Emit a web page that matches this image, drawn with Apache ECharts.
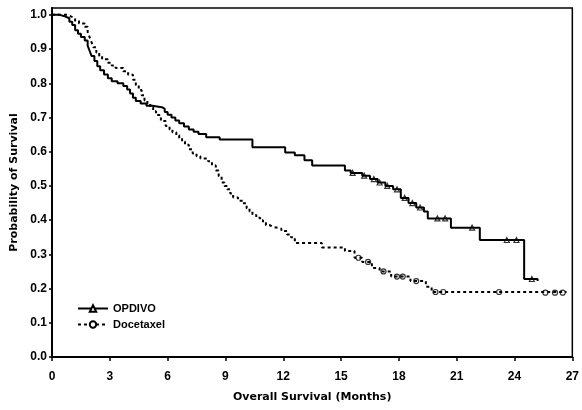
<!DOCTYPE html>
<html>
<head>
<meta charset="utf-8">
<script src="https://cdn.jsdelivr.net/npm/echarts@6/dist/echarts.min.js"></script>
<style>
  html, body { margin: 0; padding: 0; background: #fff; }
  #chart { width: 582px; height: 410px; }
</style>
</head>
<body>
<div id="chart"></div>
<script>
// Kaplan-Meier curves: months and survival after each drop
const opdivoMonths = [0, 0.4, 0.7, 0.9, 1.05, 1.2, 1.35, 1.5, 1.7, 1.85, 1.95, 2.05, 2.2, 2.35, 2.5, 2.7, 2.9, 3.1, 3.4, 3.7, 3.9, 4.05, 4.2, 4.35, 4.6, 4.9, 5.2, 5.7, 5.85, 6.0, 6.2, 6.4, 6.6, 6.85, 7.1, 7.35, 7.6, 8.0, 8.7, 10.4, 12.1, 12.6, 13.1, 13.5, 15.2, 15.5, 16.1, 16.5, 16.9, 17.3, 17.7, 18.1, 18.5, 18.9, 19.3, 19.5, 20.7, 22.2, 24.5, 25.2];
const opdivoSurv = [1.0, 0.995, 0.99, 0.98, 0.97, 0.955, 0.945, 0.935, 0.925, 0.91, 0.895, 0.88, 0.865, 0.85, 0.838, 0.826, 0.815, 0.806, 0.80, 0.792, 0.782, 0.77, 0.758, 0.748, 0.741, 0.734, 0.73, 0.725, 0.716, 0.708, 0.70, 0.691, 0.683, 0.674, 0.665, 0.658, 0.652, 0.642, 0.636, 0.613, 0.598, 0.59, 0.575, 0.56, 0.545, 0.538, 0.53, 0.52, 0.51, 0.50, 0.49, 0.465, 0.45, 0.437, 0.425, 0.405, 0.378, 0.342, 0.228, 0.222];

const docetaxelMonths = [0, 0.8, 1.0, 1.2, 1.4, 1.7, 1.85, 1.95, 2.05, 2.15, 2.3, 2.45, 2.6, 2.9, 3.1, 3.3, 3.7, 3.95, 4.2, 4.35, 4.5, 4.65, 4.8, 4.95, 5.1, 5.25, 5.4, 5.65, 5.9, 6.1, 6.25, 6.45, 6.6, 6.75, 6.9, 7.1, 7.3, 7.5, 7.7, 8.1, 8.3, 8.5, 8.65, 8.8, 8.95, 9.1, 9.25, 9.4, 9.65, 9.9, 10.1, 10.25, 10.4, 10.6, 10.8, 10.95, 11.1, 11.3, 11.5, 11.9, 12.2, 12.4, 12.6, 14.0, 15.2, 15.7, 16.1, 16.6, 17.0, 17.6, 18.6, 19.4, 19.7, 26.7];
const docetaxelSurv = [1.0, 0.995, 0.99, 0.982, 0.975, 0.965, 0.95, 0.935, 0.92, 0.905, 0.89, 0.88, 0.87, 0.86, 0.852, 0.845, 0.835, 0.825, 0.81, 0.795, 0.78, 0.765, 0.75, 0.74, 0.73, 0.718, 0.707, 0.69, 0.675, 0.665, 0.657, 0.648, 0.64, 0.63, 0.62, 0.607, 0.595, 0.587, 0.58, 0.572, 0.56, 0.545, 0.528, 0.51, 0.50, 0.49, 0.478, 0.466, 0.457, 0.449, 0.435, 0.425, 0.415, 0.407, 0.40, 0.392, 0.385, 0.38, 0.375, 0.368, 0.358, 0.35, 0.333, 0.32, 0.31, 0.29, 0.278, 0.26, 0.25, 0.235, 0.222, 0.205, 0.19, 0.188];

// censored observations (the marks riding on the curves)
const opdivoCensorMonths = [15.6, 16.2, 16.7, 17.0, 17.4, 17.9, 18.3, 18.7, 19.1, 20.0, 20.4, 21.8, 23.6, 24.1, 24.9];
const opdivoCensorSurv = [0.538, 0.53, 0.52, 0.51, 0.50, 0.49, 0.465, 0.45, 0.437, 0.405, 0.405, 0.378, 0.342, 0.342, 0.228];
const docetaxelCensorMonths = [15.9, 16.4, 17.2, 17.9, 18.2, 18.9, 19.9, 20.3, 23.2, 25.6, 26.1, 26.5];
const docetaxelCensorSurv = [0.29, 0.278, 0.25, 0.235, 0.235, 0.222, 0.19, 0.19, 0.19, 0.188, 0.188, 0.188];

const seriesNames = ['OPDIVO', 'Docetaxel'];

const font = 'Liberation Sans';
const nameFont = 'DejaVu Sans';

const pairs = (xs, ys) => xs.map((x, i) => [x, ys[i]]);

const chart = echarts.init(document.getElementById('chart'));

chart.setOption({
  animation: false,
  textStyle: { fontFamily: font },
  grid: {
    left: 52,
    right: 5,
    top: 8,
    bottom: 53,
    show: true,
    borderColor: '#000',
    borderWidth: 1.5,
  },
  legend: {
    orient: 'vertical',
    left: 72,
    top: 298,
    itemWidth: 30,
    itemHeight: 8,
    itemGap: 5,
    textStyle: { fontSize: 11, fontWeight: 'bold', color: '#000', fontFamily: font },
    data: seriesNames,
  },
  xAxis: {
    type: 'value',
    min: 0,
    max: 27,
    interval: 3,
    name: 'Overall Survival (Months)',
    nameLocation: 'middle',
    nameGap: 35,
    nameTextStyle: { fontSize: 11, fontWeight: 'bold', color: '#000', fontFamily: nameFont },
    axisLine: { lineStyle: { color: '#000', width: 2 } },
    axisTick: { length: 4, lineStyle: { color: '#000', width: 1.5 } },
    axisLabel: { margin: 14, fontSize: 12, fontWeight: 'bold', color: '#000' },
    splitLine: { show: false },
  },
  yAxis: {
    type: 'value',
    min: 0,
    max: 1.02,
    interval: 0.1,
    name: 'Probability of Survival',
    nameLocation: 'middle',
    nameRotate: 90,
    nameGap: 31,
    nameTextStyle: { fontSize: 11, fontWeight: 'bold', color: '#000', fontFamily: nameFont },
    axisLine: { show: true, lineStyle: { color: '#000', width: 2 } },
    axisTick: { show: true, length: 3, lineStyle: { color: '#000', width: 1.5 } },
    axisLabel: {
      margin: 5,
      fontSize: 12,
      fontWeight: 'bold',
      color: '#000',
      showMaxLabel: false,
      formatter: (v) => v.toFixed(1),
    },
    splitLine: { show: false },
  },
  series: [
    {
      name: seriesNames[0],
      type: 'line',
      step: 'end',
      symbol: 'triangle',
      symbolSize: 8,
      showSymbol: false,
      lineStyle: { color: '#000', width: 2 },
      itemStyle: { color: '#fff', borderColor: '#000', borderWidth: 1.5 },
      data: pairs(opdivoMonths, opdivoSurv),
    },
    {
      name: seriesNames[1],
      type: 'line',
      step: 'end',
      symbol: 'circle',
      symbolSize: 8,
      showSymbol: false,
      lineStyle: { color: '#000', width: 2, type: [3, 3] },
      itemStyle: { color: '#fff', borderColor: '#000', borderWidth: 1.5 },
      data: pairs(docetaxelMonths, docetaxelSurv),
    },
    {
      name: seriesNames[0],
      type: 'scatter',
      symbol: 'triangle',
      symbolSize: 5,
      itemStyle: { color: '#fff', borderColor: '#000', borderWidth: 1.2 },
      data: pairs(opdivoCensorMonths, opdivoCensorSurv),
    },
    {
      name: seriesNames[1],
      type: 'scatter',
      symbol: 'circle',
      symbolSize: 5,
      itemStyle: { color: '#fff', borderColor: '#000', borderWidth: 1.2 },
      data: pairs(docetaxelCensorMonths, docetaxelCensorSurv),
    },
  ],
});
</script>
</body>
</html>
